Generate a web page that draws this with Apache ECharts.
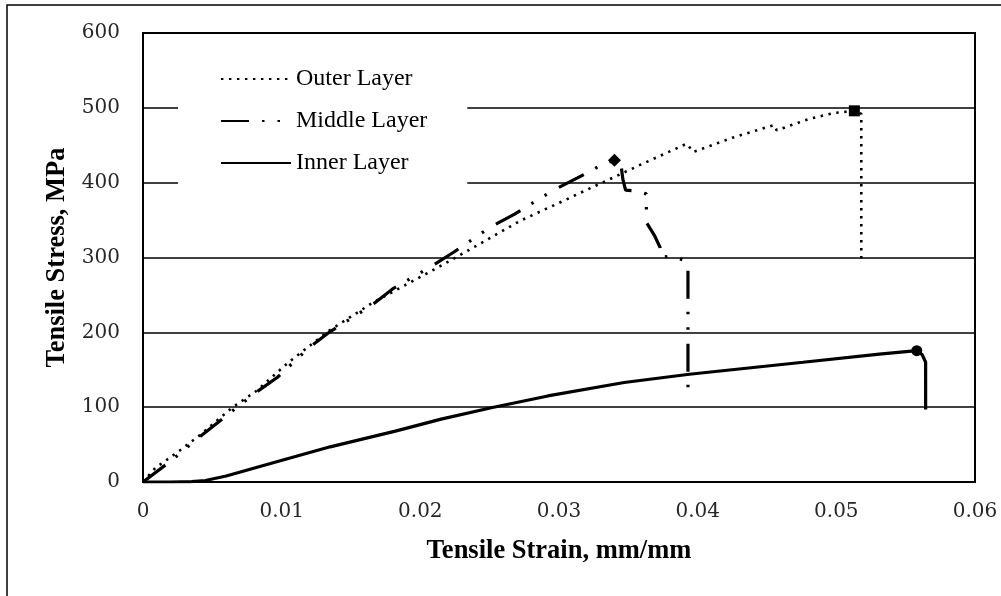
<!DOCTYPE html>
<html>
<head>
<meta charset="utf-8">
<script src="https://cdn.jsdelivr.net/npm/echarts@6/dist/echarts.min.js"></script>
<style>
  html, body { margin: 0; padding: 0; background: #fff; }
  #chart { width: 1001px; height: 596px; }
</style>
</head>
<body>
<div id="chart"></div>
<script>
// strain (mm/mm) / stress (MPa)
const outerStrain = [0, 0.0009, 0.0025, 0.0042, 0.0064, 0.0082, 0.0105, 0.0134, 0.0166, 0.0200, 0.0214, 0.0236, 0.0272, 0.0300, 0.0330, 0.0360, 0.0392, 0.0397, 0.0425, 0.0455, 0.0457, 0.0480, 0.0498, 0.0513, 0.0518, 0.0518];
const outerStress = [0, 19, 40, 64, 99, 122, 160, 202, 240, 274, 288, 311, 349, 373, 399, 425, 452, 441, 460, 477, 470, 485, 493, 496, 492, 293];

const middleStrain = [0, 0.0020, 0.0040, 0.0057, 0.0081, 0.0097, 0.0120, 0.0135, 0.0164, 0.0180, 0.0207, 0.0224, 0.0250, 0.0268, 0.0296, 0.0313, 0.0332, 0.0340, 0.0345, 0.0346, 0.0348, 0.0356, 0.0363, 0.0363, 0.0369, 0.0373, 0.0374, 0.0380, 0.0391, 0.0393, 0.0393];
const middleStress = [0, 28, 59, 84, 119, 140, 180, 201, 235, 258, 287, 307, 340, 358, 390, 406, 425, 430, 420, 405, 390, 389, 385, 347, 329, 313, 300, 302, 296, 290, 126];

const innerStrain = [0, 0.0020, 0.0035, 0.0045, 0.0060, 0.0083, 0.0108, 0.0135, 0.0182, 0.0215, 0.0252, 0.0292, 0.0347, 0.0394, 0.0435, 0.0476, 0.0531, 0.0558, 0.0562, 0.05644, 0.05644];
const innerStress = [0, 0, 0.5, 2, 8, 20, 33, 47, 68, 84, 99.5, 115, 133, 144, 152, 160, 171, 175.5, 170, 160, 97];

// failure markers
const markerNames = ['Outer Layer', 'Middle Layer', 'Inner Layer'];
const markerStrain = [0.0513, 0.0340, 0.0558];
const markerStress = [496, 430, 175.5];
const markerSymbols = ['rect', 'diamond', 'circle'];
const markerSizes = [11, 13, 11];

const xTicks = [0, 0.01, 0.02, 0.03, 0.04, 0.05, 0.06];
const yTicks = [0, 100, 200, 300, 400, 500, 600];

const pairs = (xs, ys) => xs.map((x, i) => [x, ys[i]]);

const chart = echarts.init(document.getElementById('chart'), null, {renderer: 'canvas'});

const option = {
  animation: false,
  backgroundColor: '#fff',
  graphic: [{
    type: 'rect',
    shape: {x: 7, y: 5, width: 1100, height: 700},
    style: {fill: 'none', stroke: '#000', lineWidth: 1.5},
    silent: true
  }],
  grid: {
    left: 143, right: 26, top: 33, bottom: 114,
    show: true, borderColor: '#000', borderWidth: 2
  },
  legend: {
    orient: 'vertical',
    left: 178, top: 45,
    padding: [22, 40, 20, 42],
    backgroundColor: '#fff',
    itemWidth: 70, itemHeight: 14, itemGap: 18,
    itemStyle: {opacity: 0},
    data: ['Outer Layer', 'Middle Layer', 'Inner Layer'],
    textStyle: {fontFamily: 'Liberation Serif', fontSize: 24, color: '#000'}
  },
  xAxis: {
    type: 'value',
    min: xTicks[0], max: xTicks[xTicks.length - 1], interval: 0.01,
    name: 'Tensile Strain, mm/mm',
    nameLocation: 'middle', nameGap: 56,
    nameTextStyle: {fontFamily: 'Liberation Serif', fontWeight: 'bold', fontSize: 26.5, color: '#000'},
    axisLine: {show: true, lineStyle: {color: '#000', width: 2}},
    axisTick: {show: false},
    splitLine: {show: false},
    axisLabel: {
      margin: 20, fontFamily: 'DejaVu Serif', fontSize: 20, color: '#262626',
      formatter: v => v === 0 ? '0' : v.toFixed(2)
    }
  },
  yAxis: {
    type: 'value',
    min: yTicks[0], max: yTicks[yTicks.length - 1], interval: 100,
    name: 'Tensile Stress, MPa',
    nameLocation: 'middle', nameGap: 72,
    nameTextStyle: {fontFamily: 'Liberation Serif', fontWeight: 'bold', fontSize: 26.5, color: '#000'},
    axisLine: {show: true, lineStyle: {color: '#000', width: 2}},
    axisTick: {show: false},
    splitLine: {show: true, lineStyle: {color: '#000', width: 1.6}},
    axisLabel: {margin: 23, fontFamily: 'DejaVu Serif', fontSize: 20, color: '#262626'}
  },
  series: [
    {
      name: 'Outer Layer', type: 'line', symbol: 'none',
      data: pairs(outerStrain, outerStress),
      lineStyle: {color: '#000', width: 2.6, type: [2.4, 5.6]},
      itemStyle: {color: '#000'}
    },
    {
      name: 'Middle Layer', type: 'line', symbol: 'none',
      data: pairs(middleStrain, middleStress),
      lineStyle: {color: '#000', width: 3.2, type: [28, 13, 2.5, 13, 2.5, 14]},
      itemStyle: {color: '#000'}
    },
    {
      name: 'Inner Layer', type: 'line', symbol: 'none',
      data: pairs(innerStrain, innerStress),
      lineStyle: {color: '#000', width: 3.2},
      itemStyle: {color: '#000'}
    },
    {
      name: 'failure', type: 'scatter', z: 5,
      data: markerNames.map((n, i) => ({
        name: n,
        value: [markerStrain[i], markerStress[i]],
        symbol: markerSymbols[i],
        symbolSize: markerSizes[i]
      })),
      itemStyle: {color: '#000', opacity: 1}
    }
  ]
};

chart.setOption(option);
</script>
</body>
</html>
